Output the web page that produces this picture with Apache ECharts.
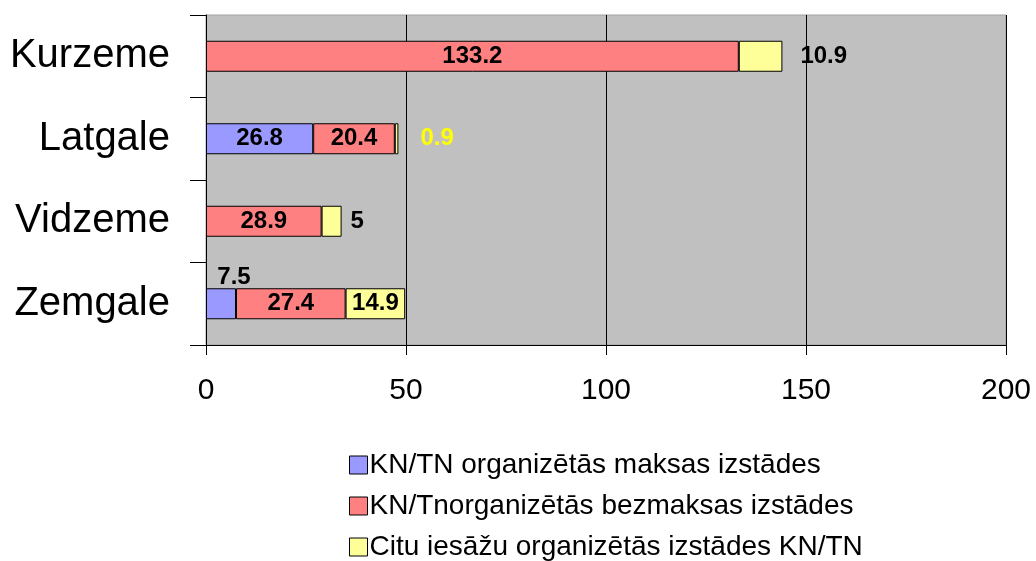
<!DOCTYPE html>
<html>
<head>
<meta charset="utf-8">
<script src="https://cdn.jsdelivr.net/npm/echarts@6/dist/echarts.min.js"></script>
<style>
  html, body { margin: 0; padding: 0; background: #fff; }
  #chart { width: 1036px; height: 561px; }
</style>
</head>
<body>
<div id="chart"></div>
<script>
// Reģioni un vērtības
const regions = ['Kurzeme', 'Latgale', 'Vidzeme', 'Zemgale'];
const seriesNames = [
    'KN/TN organizētās maksas izstādes',
    'KN/Tnorganizētās bezmaksas izstādes',
    'Citu iesāžu organizētās izstādes KN/TN'
];
const maksas = [null, 26.8, null, 7.5];
const bezmaksas = [133.2, 20.4, 28.9, 27.4];
const citu = [10.9, 0.9, 5, 14.9];
const xTicks = [0, 50, 100, 150, 200];

const colors = ['#9999FF', '#FF8080', '#FFFF99'];

// Etiķešu novietojums dažiem stabiņiem
const labelStyle = {
    0: { 3: { position: 'top', distance: 0, offset: [13, 1] } },
    2: {
        0: { position: 'right', distance: 18 },
        1: { position: 'right', distance: 22, color: '#FFFF00' },
        2: { position: 'right', distance: 9 }
    }
};

function buildData(values, s) {
    return values.map((v, i) => {
        let item = { value: v };
        if (labelStyle[s] && labelStyle[s][i]) {
            item.label = labelStyle[s][i];
        }
        return item;
    });
}

let chart = echarts.init(document.getElementById('chart'));

let option = {
    animation: false,
    textStyle: { fontFamily: 'Liberation Sans, Arial, sans-serif' },
    grid: {
        left: 206, top: 15, width: 800, height: 330,
        show: true,
        backgroundColor: '#C0C0C0',
        borderColor: '#A0A0A0',
        borderWidth: 1
    },
    legend: {
        orient: 'vertical',
        left: 344,
        top: 446,
        height: 200,
        itemWidth: 18,
        itemHeight: 18,
        itemGap: 13,
        icon: 'rect',
        itemStyle: { borderColor: '#000', borderWidth: 1 },
        textStyle: { fontSize: 28, color: '#000', padding: [0, 0, 0, -3] },
        data: seriesNames
    },
    xAxis: {
        type: 'value',
        min: 0,
        max: 200,
        interval: 50,
        axisLine: { show: true, lineStyle: { color: '#000' } },
        axisTick: { show: true, length: 10, lineStyle: { color: '#000' } },
        splitLine: { show: true, lineStyle: { color: '#000', width: 1 } },
        axisLabel: {
            fontSize: 30, color: '#000', margin: 31,
            customValues: xTicks
        }
    },
    yAxis: {
        type: 'category',
        inverse: true,
        data: regions,
        axisLine: { show: true, lineStyle: { color: '#000' } },
        axisTick: { show: true, length: 16, interval: 0, lineStyle: { color: '#000' } },
        axisLabel: { fontSize: 40, color: '#000', margin: 36 }
    },
    series: [maksas, bezmaksas, citu].map((vals, s) => ({
        name: seriesNames[s],
        type: 'bar',
        stack: 'total',
        barWidth: 31,
        data: buildData(vals, s),
        itemStyle: { color: colors[s], borderColor: '#000', borderWidth: 1 },
        label: {
            show: true,
            position: 'inside',
            fontSize: 24,
            fontWeight: 'bold',
            color: '#000',
            formatter: p => (p.value == null ? '' : String(p.value))
        }
    }))
};

chart.setOption(option);
window.onresize = () => chart.resize();
</script>
</body>
</html>
